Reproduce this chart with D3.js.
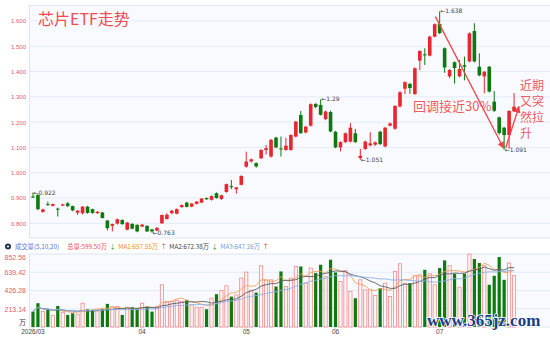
<!DOCTYPE html>
<html>
<head>
<meta charset="utf-8">
<script src="https://cdn.jsdelivr.net/npm/d3@7"></script>
<style>
body { margin: 0; background: #fff; }
text { font-family: "Noto Sans CJK SC", "Noto Sans", sans-serif; }
</style>
</head>
<body>
<svg id="chart" width="550" height="337"></svg>
<script>

// ----------------------------------------- Data -----------------------------------------

var opens  = [0.906,0.912,0.845,0.876,0.869,0.858,0.870,0.879,0.868,0.842,0.840,0.866,0.856,0.840,0.843,0.811,0.790,0.799,0.813,0.775,
              0.798,0.794,0.787,0.790,0.776,0.771,0.800,0.817,0.840,0.838,0.864,0.882,0.866,0.877,0.882,0.900,0.893,0.919,0.896,0.924,
              0.947,0.935,0.952,1.024,1.045,1.038,1.057,1.090,1.064,1.139,1.096,1.090,1.090,1.143,1.228,1.159,1.186,1.272,1.268,1.212,
              1.240,1.162,1.100,1.121,1.123,1.156,1.058,1.094,1.108,1.111,1.162,1.104,1.186,1.174,1.262,1.332,1.351,1.311,1.443,1.468,
              1.463,1.538,1.588,1.492,1.381,1.437,1.381,1.425,1.440,1.560,1.419,1.381,1.419,1.281,1.219,1.178,1.149,1.243];
var highs  = [0.922,0.915,0.858,0.886,0.878,0.862,0.877,0.884,0.870,0.852,0.868,0.869,0.858,0.848,0.845,0.813,0.799,0.819,0.816,0.806,
              0.800,0.796,0.797,0.792,0.778,0.785,0.835,0.840,0.853,0.859,0.875,0.885,0.880,0.888,0.900,0.902,0.910,0.922,0.913,0.957,
              0.971,0.944,0.990,1.083,1.056,1.041,1.093,1.110,1.133,1.142,1.143,1.138,1.152,1.205,1.244,1.185,1.274,1.275,1.290,1.246,
              1.245,1.165,1.124,1.159,1.196,1.173,1.094,1.127,1.160,1.124,1.166,1.181,1.199,1.267,1.322,1.361,1.355,1.416,1.484,1.492,
              1.541,1.590,1.638,1.495,1.410,1.440,1.446,1.459,1.555,1.591,1.472,1.402,1.422,1.323,1.222,1.181,1.247,1.315];
var lows   = [0.900,0.852,0.842,0.870,0.867,0.827,0.868,0.865,0.848,0.833,0.835,0.838,0.838,0.837,0.819,0.772,0.768,0.795,0.794,0.772,
              0.776,0.765,0.785,0.766,0.763,0.769,0.798,0.815,0.836,0.836,0.862,0.863,0.864,0.875,0.880,0.893,0.890,0.898,0.893,0.921,
              0.935,0.917,0.950,1.020,1.040,1.020,1.054,1.072,1.060,1.097,1.064,1.087,1.087,1.140,1.153,1.156,1.183,1.255,1.226,1.208,
              1.160,1.097,1.084,1.118,1.120,1.118,1.051,1.090,1.104,1.106,1.110,1.100,1.183,1.170,1.258,1.311,1.312,1.308,1.406,1.426,
              1.460,1.535,1.548,1.395,1.374,1.352,1.377,1.365,1.436,1.436,1.381,1.314,1.317,1.240,1.150,1.091,1.095,1.240];
var closes = [0.904,0.856,0.855,0.872,0.876,0.855,0.875,0.868,0.851,0.850,0.866,0.841,0.841,0.846,0.821,0.781,0.797,0.816,0.797,0.803,
              0.779,0.768,0.795,0.768,0.768,0.782,0.833,0.834,0.850,0.856,0.872,0.865,0.878,0.886,0.898,0.895,0.908,0.900,0.911,0.955,
              0.943,0.942,0.987,1.044,1.053,1.025,1.090,1.097,1.130,1.100,1.093,1.107,1.149,1.202,1.157,1.182,1.271,1.260,1.229,1.242,
              1.163,1.100,1.121,1.156,1.178,1.121,1.067,1.123,1.116,1.120,1.113,1.178,1.195,1.264,1.318,1.358,1.335,1.413,1.481,1.465,
              1.538,1.587,1.552,1.416,1.406,1.414,1.410,1.419,1.551,1.440,1.385,1.399,1.321,1.245,1.157,1.149,1.244,1.261];
var volumes = [180,278,180,200,133,246,172,141,160,149,278,207,200,207,207,270,238,238,141,231,
               231,219,278,238,180,238,493,297,300,310,300,317,258,231,231,207,337,383,426,481,
               355,375,571,641,430,402,715,551,551,473,649,473,571,707,707,512,688,630,727,590,
               786,637,531,660,414,336,551,434,434,368,454,512,356,649,739,512,512,598,610,668,
               622,493,688,778,716,622,465,622,852,794,747,716,493,598,817,551,747,599.5];

var dateLabels = ["2026/03", "04", "05", "06", "07"];
var dateIndex  = [0, 22, 43, 61, 82];

var priceTicks  = [0.8, 0.9, 1.0, 1.1, 1.2, 1.3, 1.4, 1.5, 1.6];
var volumeTicks = [0, 213.14, 426.28, 639.42, 852.56];
var maPeriods   = [5, 10, 20];

// high / low markers
var markIndex = [0, 24, 58, 66, 82, 95];
var markType  = ["high", "low", "high", "low", "high", "low"];

var legendTexts  = ["总量:599.50万", "MA1:657.55万", "MA2:672.38万", "MA3:647.26万"];
var legendArrows = ["↓", "↑", "↓", "↑"];

// arrows drawn by the author: [index, price]
var arrowFrom = [[81.65, 1.617], [95.8, 1.098]];
var arrowTo   = [[95.4, 1.097], [98.5, 1.262]];

// ----------------------------------------- Setup -----------------------------------------

var upColor = "#e8262d";
var downColor = "#0e7a0e";
var maColors = ["#f4a157", "#565c68", "#8cb0ea"];
var legendColors = ["#ef4f5a", "#f08a2c", "#444", "#6f9ae6"];

var svg = d3.select("#chart");

var x = d3.scaleLinear().domain([0, 104]).range([30.5, 546.3]);
function cx(i) { return x(i + 0.5); }

var y = d3.scaleLinear().domain([0.742, 1.663]).range([238, 5]);
var yv = d3.scaleLinear().domain([0, 852.56]).range([327, 254]);

svg.append("rect").attr("width", 550).attr("height", 337).attr("fill", "#fff");

// panels
svg.append("rect")
    .attr("x", 29.5).attr("y", 5.5).attr("width", 521).attr("height", 232.5)
    .attr("fill", "#f8faff").attr("stroke", "#dce6f3");
svg.append("rect")
    .attr("x", 29.5).attr("y", 254).attr("width", 521).attr("height", 73)
    .attr("fill", "#f8faff").attr("stroke", "#dce6f3");

// grid lines
svg.append("g").selectAll("line")
    .data(priceTicks)
    .enter().append("line")
        .attr("x1", 30).attr("x2", 550)
        .attr("y1", d => y(d)).attr("y2", d => y(d))
        .attr("stroke", "#e2ebf7");

svg.append("g").selectAll("line")
    .data(volumeTicks.slice(1, 4))
    .enter().append("line")
        .attr("x1", 30).attr("x2", 550)
        .attr("y1", d => yv(d)).attr("y2", d => yv(d))
        .attr("stroke", "#e2ebf7");

// ----------------------------------------- Axes -----------------------------------------

var priceAxis = svg.append("g")
    .attr("transform", "translate(29,0)")
    .call(d3.axisLeft(y).tickValues(priceTicks).tickFormat(d3.format(".3f")).tickSize(0).tickPadding(3));
priceAxis.select(".domain").remove();
priceAxis.selectAll("text")
    .style("font-family", "'Liberation Sans', Arial, sans-serif")
    .style("font-size", "6px")
    .attr("fill", "#e65a6a");

var volAxis = svg.append("g")
    .attr("transform", "translate(29,0)")
    .call(d3.axisLeft(yv).tickValues(volumeTicks)
        .tickFormat(d => d === 0 ? "万" : d3.format(".2f")(d)).tickSize(0).tickPadding(3));
volAxis.select(".domain").remove();
volAxis.selectAll("text")
    .style("font-family", "'Liberation Sans', Arial, sans-serif")
    .style("font-size", "7px")
    .attr("fill", d => d === 0 ? "#333" : "#e65a6a")
    .attr("dy", d => d === 0 ? "-0.4em" : (d === 852.56 ? "0.85em" : "0.32em"));
volAxis.selectAll("text").filter(d => d === 0)
    .style("font-family", "'Noto Sans CJK SC', sans-serif");

// date axis
svg.append("g").selectAll("line")
    .data(dateIndex)
    .enter().append("line")
        .attr("x1", d => cx(d)).attr("x2", d => cx(d))
        .attr("y1", 327).attr("y2", 329)
        .attr("stroke", "#c8d3e2");

svg.append("g").selectAll("text")
    .data(dateIndex)
    .enter().append("text")
        .attr("x", d => cx(d))
        .attr("y", 334)
        .attr("text-anchor", "middle")
        .style("font-family", "'Liberation Sans', Arial, sans-serif")
        .style("font-size", "6.5px")
        .attr("fill", "#444")
        .text((d, i) => dateLabels[i]);

// ----------------------------------------- Candles -----------------------------------------

var candles = opens.map(function(o, i) {
    return { i: i, o: o, h: highs[i], l: lows[i], c: closes[i], v: volumes[i], up: closes[i] >= o };
});

var candleG = svg.append("g");

candleG.selectAll(".wick")
    .data(candles)
    .enter().append("line")
        .classed("wick", true)
        .attr("x1", d => cx(d.i)).attr("x2", d => cx(d.i))
        .attr("y1", d => y(d.h)).attr("y2", d => y(d.l))
        .attr("stroke", d => d.up ? upColor : downColor)
        .attr("stroke-width", 1);

candleG.selectAll(".body")
    .data(candles)
    .enter().append("rect")
        .classed("body", true)
        .attr("x", d => cx(d.i) - 1.8)
        .attr("width", 3.6)
        .attr("y", d => y(Math.max(d.o, d.c)))
        .attr("height", d => Math.max(1, Math.abs(y(d.o) - y(d.c))))
        .attr("fill", d => d.up ? upColor : downColor);

// high / low labels
svg.append("g").selectAll("text")
    .data(markIndex)
    .enter().append("text")
        .attr("x", d => cx(d) + 0.5)
        .attr("y", (d, k) => y(markType[k] === "high" ? highs[d] : lows[d]))
        .attr("dy", "0.35em")
        .style("font-family", "'DejaVu Sans', sans-serif")
        .style("font-size", "6px")
        .attr("fill", "#444")
        .text((d, k) => "←" + (+(markType[k] === "high" ? highs[d] : lows[d]).toFixed(3)));

// ----------------------------------------- Volume -----------------------------------------

var volG = svg.append("g");

volG.selectAll("rect")
    .data(candles)
    .enter().append("rect")
        .attr("x", d => cx(d.i) - 1.6)
        .attr("width", 3.2)
        .attr("y", d => yv(d.v))
        .attr("height", d => yv(0) - yv(d.v))
        .attr("fill", d => d.up ? "#fff6f6" : downColor)
        .attr("stroke", d => d.up ? "#f08a8e" : "none")
        .attr("stroke-width", 0.8);

function movingAvg(arr, n) {
    return arr.map(function(v, i) {
        return d3.mean(arr.slice(Math.max(0, i - n + 1), i + 1));
    });
}

var maLine = d3.line()
    .x((d, i) => cx(i))
    .y(d => yv(d));

maPeriods.forEach(function(n, k) {
    svg.append("path")
        .datum(movingAvg(volumes, n))
        .attr("d", maLine)
        .attr("fill", "none")
        .attr("stroke", maColors[k])
        .attr("stroke-width", 0.9);
});

// ----------------------------------------- Legend -----------------------------------------

svg.append("circle").attr("cx", 8).attr("cy", 246.5).attr("r", 3).attr("fill", "#22304f");
svg.append("circle").attr("cx", 8).attr("cy", 246.5).attr("r", 1.1).attr("fill", "#fff");

var legend = svg.append("text")
    .attr("x", 15)
    .attr("y", 248.8)
    .style("font-size", "6.3px");

legend.append("tspan").attr("fill", "#4f78d8").text("成交量(" + maPeriods.join(",") + ")");

legendTexts.forEach(function(t, k) {
    legend.append("tspan").attr("dx", k === 0 ? 8 : 2.5).attr("fill", legendColors[k]).text(t);
    legend.append("tspan").attr("dx", 2.5)
        .attr("fill", legendArrows[k] === "↑" ? "#e53030" : "#1a9a1a")
        .text(legendArrows[k]);
});

// ----------------------------------------- Annotations -----------------------------------------

svg.append("defs").append("marker")
    .attr("id", "head")
    .attr("viewBox", "0 0 10 10")
    .attr("refX", 9).attr("refY", 5)
    .attr("markerWidth", 7).attr("markerHeight", 7)
    .attr("markerUnits", "userSpaceOnUse")
    .attr("orient", "auto")
    .append("path")
        .attr("d", "M0,0 L10,5 L0,10 z")
        .attr("fill", "#ef4448");

svg.append("g").selectAll("line")
    .data(arrowFrom)
    .enter().append("line")
        .attr("x1", d => x(d[0])).attr("y1", d => y(d[1]))
        .attr("x2", (d, k) => x(arrowTo[k][0])).attr("y2", (d, k) => y(arrowTo[k][1]))
        .attr("stroke", "#ef4448")
        .attr("stroke-width", 1.3)
        .attr("marker-end", "url(#head)");

svg.append("text")
    .attr("x", 38).attr("y", 25)
    .style("font-size", "16px")
    .attr("fill", "#f04c4f")
    .text("芯片ETF走势");

svg.append("text")
    .attr("x", 413).attr("y", 111)
    .style("font-size", "13px")
    .attr("fill", "#f05a5e")
    .text("回调接近30%");

var sideNote = ["近期", "又突", "然拉", "升"];
svg.append("g").selectAll("text")
    .data(sideNote)
    .enter().append("text")
        .attr("x", 520)
        .attr("y", (d, i) => 89.5 + i * 16.3)
        .style("font-size", "12px")
        .attr("fill", "#f05a5e")
        .text(d => d);

// watermark
svg.append("text")
    .attr("x", 427).attr("y", 325.5)
    .style("font-family", "'Liberation Serif', 'DejaVu Serif', serif")
    .style("font-weight", "bold")
    .style("font-size", "17px")
    .attr("fill", "#1c3d84")
    .attr("stroke", "#fff")
    .attr("stroke-width", 1.5)
    .attr("paint-order", "stroke")
    .text("www.365jz.com");

</script>
</body>
</html>
